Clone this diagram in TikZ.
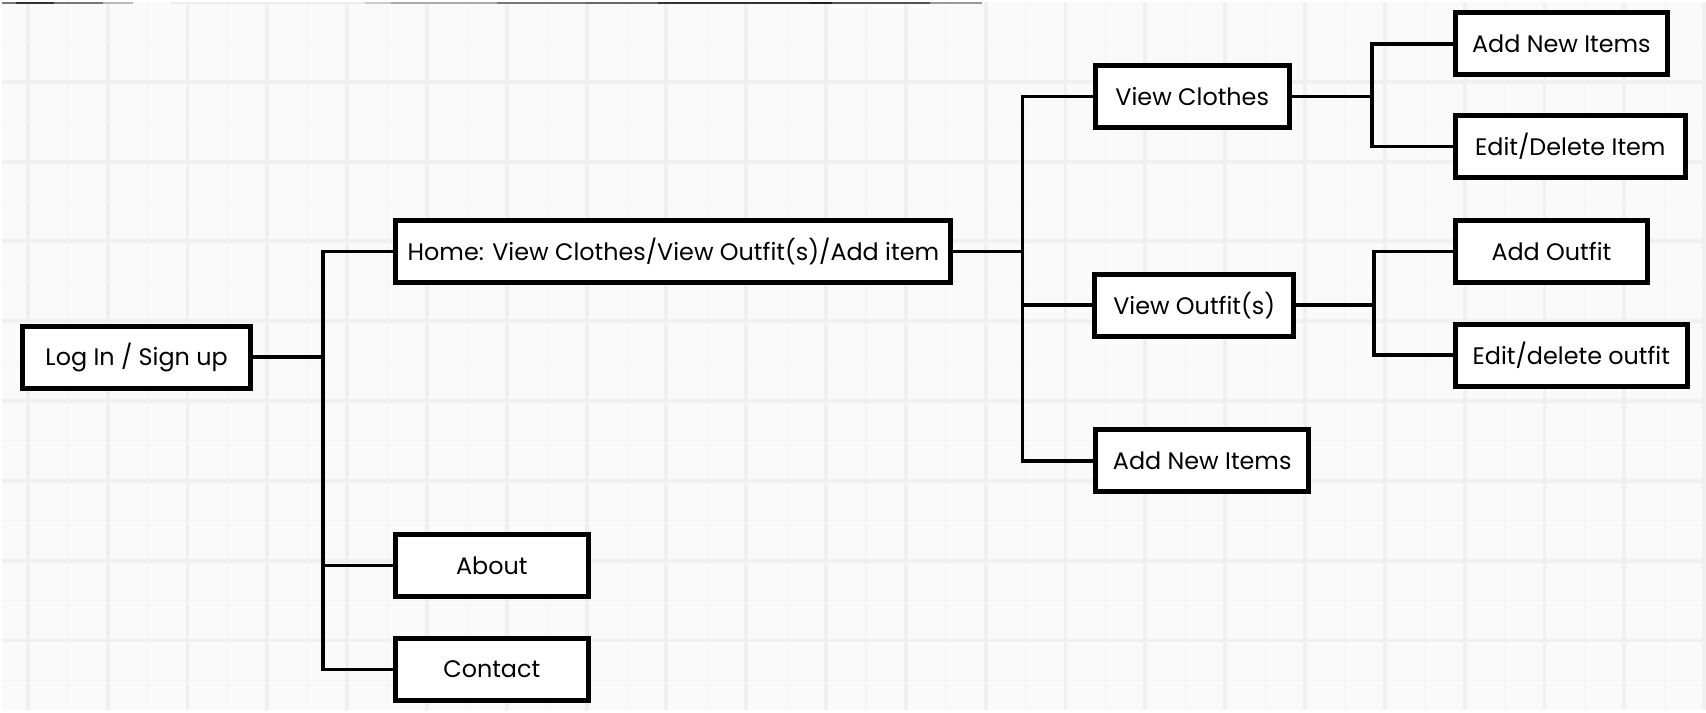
\documentclass[tikz,border=0pt]{standalone}
\usepackage{fontspec}
\setmainfont{Poppins}
\usetikzlibrary{positioning}
\definecolor{paper}{HTML}{FAFAFA}
\definecolor{gridmajor}{HTML}{F0F0F0}
\definecolor{gridminor}{HTML}{F4F4F4}
\begin{document}
\begin{tikzpicture}[x=0.01cm,y=-0.01cm]
\tikzset{box/.style={draw,rectangle,fill=white,line width=1.4pt,minimum height=0.62cm,inner sep=0pt,font=\fontsize{6.8}{7.5}\selectfont},
         link/.style={draw,line width=1pt,line cap=rect}}
% paper and grid
\fill[paper] (0,0) rectangle (1706,710);
\foreach \x in {66,146,...,1706} \draw[gridminor,line width=0.3pt] (\x,0) -- (\x,710);
\foreach \y in {40,120,...,710} \draw[gridminor,line width=0.3pt] (0,\y) -- (1706,\y);
\foreach \x in {26,106,...,1706} \draw[gridmajor,line width=1.1pt] (\x,0) -- (\x,710);
\foreach \y in {80,160,...,710} \draw[gridmajor,line width=1.1pt] (0,\y) -- (1706,\y);
% strip along the top edge
\foreach \a/\b/\g in {0/14/53,14/52/80,52/101/53,101/131/27,131/169/2,169/364/7,364/390/20,390/496/33,496/585/53,585/658/60,658/810/80,810/832/87,832/930/67,930/982/40}
  \fill[black!\g] (\a,0) rectangle (\b,2);
% boxes
\node[box,minimum width=2.28cm] (login) at (135,356) {Log In / Sign up};
\node[box,minimum width=5.56cm] (home) at (673,250) {Home: View Clothes/View Outfit(s)/Add item};
\node[box,minimum width=1.93cm] (about) at (491,565) {About};
\node[box,minimum width=1.93cm] (contact) at (491,669) {Contact};
\node[box,minimum width=1.94cm] (clothes) at (1193,95) {View Clothes};
\node[box,minimum width=1.99cm] (outfits) at (1195,304) {View Outfit(s)};
\node[box,minimum width=2.13cm] (additems) at (1203,460) {Add New Items};
\node[box,minimum width=2.13cm] (addnew) at (1563,42) {Add New Items};
\node[box,minimum width=2.31cm] (editdel) at (1572,145) {Edit/Delete Item};
\node[box,minimum width=1.93cm] (addoutfit) at (1553,250) {Add Outfit};
\node[box,minimum width=2.33cm] (editoutfit) at (1573,354) {Edit/delete outfit};
% joints
\coordinate (j1) at (322,356);
\coordinate (j2) at (1023,250);
\coordinate (j3) at (1373,95);
\coordinate (j4) at (1375,304);
% connectors
\draw[link] (login.east) -- (login.east -| j1);
\foreach \n in {home,about,contact} \draw[link] (j1) |- (\n.west);
\draw[link] (home.east) -- (home.east -| j2);
\foreach \n in {clothes,outfits,additems} \draw[link] (j2) |- (\n.west);
\draw[link] (clothes.east) -- (clothes.east -| j3);
\foreach \n in {addnew,editdel} \draw[link] (j3) |- (\n.west);
\draw[link] (outfits.east) -- (outfits.east -| j4);
\foreach \n in {addoutfit,editoutfit} \draw[link] (j4) |- (\n.west);
\useasboundingbox (0,0) rectangle (1706,710);
\end{tikzpicture}
\end{document}
